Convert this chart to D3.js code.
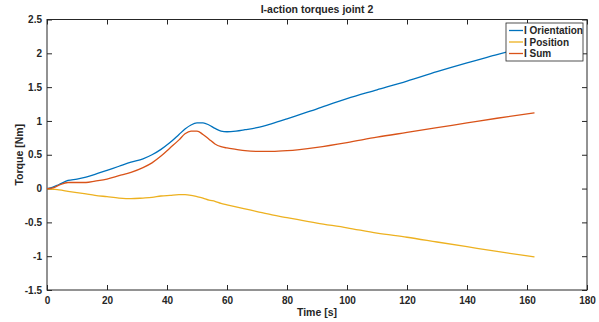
<!DOCTYPE html>
<html>
<head>
<meta charset="utf-8">
<script src="https://cdn.jsdelivr.net/npm/d3@7"></script>
<style>
  body { margin: 0; background: #fff; }
  svg text { font-family: "Liberation Sans", Arial, sans-serif; font-weight: bold; fill: #262626; }
</style>
</head>
<body>
<svg class="chart-svg"></svg>
<script>
const time = [0, 2, 4, 7, 10, 13, 16, 20, 24, 28, 32, 35, 38, 41, 44, 46, 48, 50, 52, 54, 56, 58, 60, 63, 66, 70, 75, 80, 90, 100, 110, 120, 130, 140, 150, 162.5];
const iOrientation = [0, 0.02, 0.06, 0.12, 0.14, 0.17, 0.21, 0.27, 0.33, 0.39, 0.44, 0.5, 0.58, 0.68, 0.8, 0.88, 0.94, 0.97, 0.97, 0.94, 0.89, 0.85, 0.84, 0.85, 0.87, 0.9, 0.96, 1.03, 1.18, 1.33, 1.46, 1.59, 1.73, 1.86, 1.98, 2.13];
const iPosition = [0, -0.01, -0.02, -0.04, -0.06, -0.08, -0.1, -0.12, -0.14, -0.15, -0.14, -0.13, -0.11, -0.1, -0.09, -0.09, -0.1, -0.12, -0.14, -0.17, -0.19, -0.22, -0.24, -0.27, -0.3, -0.34, -0.39, -0.43, -0.51, -0.58, -0.66, -0.72, -0.79, -0.86, -0.93, -1.01];
const iSum = [0, 0.01, 0.05, 0.09, 0.09, 0.09, 0.11, 0.14, 0.19, 0.24, 0.31, 0.38, 0.48, 0.6, 0.72, 0.81, 0.85, 0.85, 0.8, 0.73, 0.66, 0.62, 0.6, 0.58, 0.56, 0.55, 0.55, 0.56, 0.61, 0.68, 0.76, 0.83, 0.9, 0.97, 1.04, 1.12];
const xTicks = [0, 20, 40, 60, 80, 100, 120, 140, 160, 180];
const yTicks = [-1.5, -1, -0.5, 0, 0.5, 1, 1.5, 2, 2.5];
const seriesNames = ["I Orientation", "I Position", "I Sum"];
const seriesColors = ["#0072BD", "#EDB120", "#D95319"];

const W = 599, H = 322;
const margin = { left: 47, right: 12, top: 19.5, bottom: 32 };
const width = W - margin.left - margin.right;
const height = H - margin.top - margin.bottom;

const svg = d3.select(".chart-svg").attr("width", W).attr("height", H);
const g = svg.append("g").attr("transform", `translate(${margin.left},${margin.top})`);

const xScale = d3.scaleLinear().domain([0, 180]).range([0, width]);
const yScale = d3.scaleLinear().domain([-1.5, 2.5]).range([height, 0]);

// axes (ticks pointing inward, like matlab)
function styleAxis(sel) {
  sel.select(".domain").remove();
  sel.selectAll("line").attr("stroke", "#262626");
  sel.selectAll("text").style("font-size", "10px").attr("fill", "#262626");
}
g.append("g").attr("transform", `translate(0,${height})`)
  .call(d3.axisBottom(xScale).tickValues(xTicks).tickSizeInner(-5).tickSizeOuter(0).tickPadding(7).tickFormat(d3.format("d")))
  .call(styleAxis);
g.append("g")
  .call(d3.axisLeft(yScale).tickValues(yTicks).tickSizeInner(-5).tickSizeOuter(0).tickPadding(5).tickFormat(d => String(d)))
  .call(styleAxis);
g.append("g")
  .call(d3.axisTop(xScale).tickValues(xTicks).tickSizeInner(-5).tickSizeOuter(0).tickFormat(""))
  .call(styleAxis);
g.append("g").attr("transform", `translate(${width},0)`)
  .call(d3.axisRight(yScale).tickValues(yTicks).tickSizeInner(-5).tickSizeOuter(0).tickFormat(""))
  .call(styleAxis);

g.append("rect")
  .attr("x", 0).attr("y", 0).attr("width", width).attr("height", height)
  .attr("fill", "none").attr("stroke", "#262626").attr("stroke-width", 1);

// lines
const allSeries = [iOrientation, iPosition, iSum];
const line = d3.line().x((d, i) => xScale(time[i])).y(d => yScale(d));
allSeries.forEach((vals, k) => {
  g.append("path")
    .datum(vals)
    .attr("fill", "none")
    .attr("stroke", seriesColors[k])
    .attr("stroke-width", 1.3)
    .attr("stroke-linejoin", "round")
    .attr("d", d3.line().curve(d3.curveMonotoneX).x((d, i) => xScale(time[i])).y(d => yScale(d)));
});

// labels
svg.append("text")
  .attr("x", margin.left + width / 2).attr("y", 13)
  .attr("text-anchor", "middle").style("font-size", "10.5px")
  .text("I-action torques joint 2");
svg.append("text")
  .attr("x", margin.left + width / 2).attr("y", 316)
  .attr("text-anchor", "middle").style("font-size", "10.5px")
  .text("Time [s]");
svg.append("text")
  .attr("transform", `translate(23,${margin.top + height / 2}) rotate(-90)`)
  .attr("text-anchor", "middle").style("font-size", "10.5px")
  .text("Torque [Nm]");

// legend
const legend = svg.append("g").attr("transform", "translate(506,23)");
legend.append("rect")
  .attr("width", 77).attr("height", 38)
  .attr("fill", "#fff").attr("stroke", "#262626").attr("stroke-width", 0.8);
seriesNames.forEach((name, k) => {
  const y = 7.5 + k * 11.5;
  legend.append("line")
    .attr("x1", 3).attr("x2", 17).attr("y1", y).attr("y2", y)
    .attr("stroke", seriesColors[k]).attr("stroke-width", 1.3);
  legend.append("text")
    .attr("x", 18).attr("y", y + 3.6)
    .style("font-size", "10px")
    .text(name);
});
</script>
</body>
</html>
